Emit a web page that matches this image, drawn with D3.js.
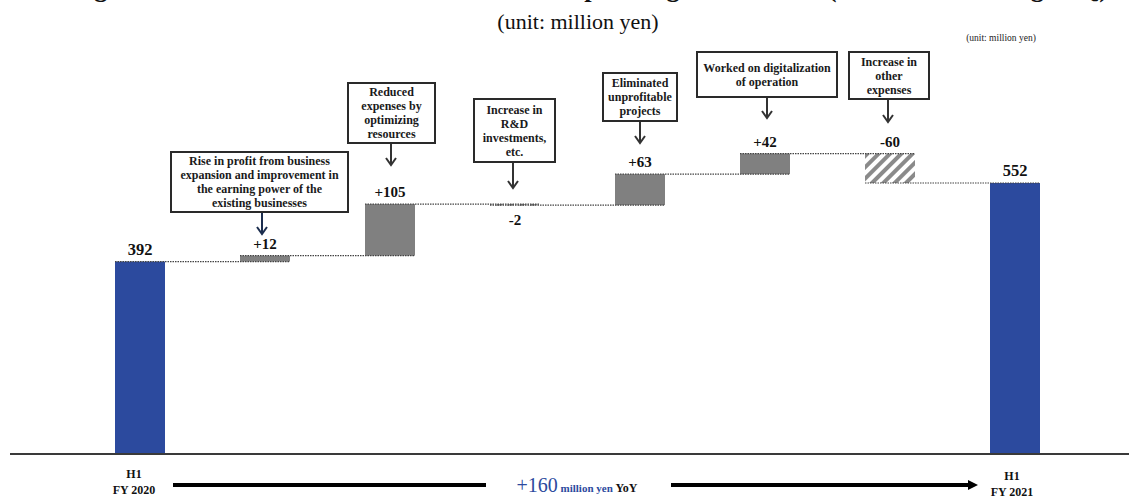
<!DOCTYPE html>
<html>
<head>
<meta charset="utf-8">
<script src="https://cdn.jsdelivr.net/npm/d3@7"></script>
<style>
  html, body { margin: 0; padding: 0; background: #fff; }
  svg { display: block; font-family: "Liberation Serif", "Times New Roman", serif; }
</style>
</head>
<body>
<svg id="chart" width="1129" height="497"></svg>
<script>
// Operating profit bridge, H1 FY2020 -> H1 FY2021 (million yen)
const categories = ["H1 FY 2020", "Business growth", "Resource optimization", "R&D", "Unprofitable projects", "Digitalization", "Other expenses", "H1 FY 2021"];
const values = [392, 12, 105, -2, 63, 42, -60, 552];
const valueLabels = ["392", "+12", "+105", "-2", "+63", "+42", "-60", "552"];
const isTotal = [true, false, false, false, false, false, false, true];
const noteLines = [
  null,
  ["Rise in profit from business", "expansion and improvement in", "the earning power of the", "existing businesses"],
  ["Reduced", "expenses by", "optimizing", "resources"],
  ["Increase in", "R&D", "investments,", "etc."],
  ["Eliminated", "unprofitable", "projects"],
  ["Worked on digitalization", "of operation"],
  ["Increase in", "other", "expenses"],
  null
];
const axisLabels = [["H1", "FY 2020"], ["H1", "FY 2021"]];
const titleText = "[Figure 3] Factors that Increased/Decreased Operating Profit in H1 (cumulative through 2Q)";
const unitText = "(unit: million yen)";
const yoyParts = ["+160", " million yen ", "YoY"];

// Layout of the callout boxes (x, y, width, height) and arrow tips
const noteBoxes = [null,
  {x: 171, y: 152, w: 177, h: 60, ax: 262, ay: 234, color: "#1c2e4f"},
  {x: 348, y: 83,  w: 87,  h: 60, ax: 391, ay: 165, color: "#333"},
  {x: 474, y: 99,  w: 81,  h: 63, ax: 513, ay: 188, color: "#333"},
  {x: 603, y: 73,  w: 74,  h: 48, ax: 640, ay: 143, color: "#333"},
  {x: 697, y: 52,  w: 140, h: 45, ax: 767, ay: 118, color: "#333"},
  {x: 849, y: 52,  w: 80,  h: 47, ax: 888, ay: 122, color: "#333"},
  null];

const svg = d3.select("#chart");
const W = 1129, baseY = 454, barW = 50;
const blue = "#2c4a9e", gray = "#808080";

const x = d3.scalePoint().domain(categories).range([140, 1015]);
const y = d3.scaleLinear().domain([0, 552]).range([baseY, 183]);

// running totals
let run = 0;
const bars = categories.map((c, i) => {
  let start, end;
  if (isTotal[i]) { start = 0; end = values[i]; run = values[i]; }
  else { start = run; end = run + values[i]; run = end; }
  return {cat: c, i, start, end, v: values[i], total: isTotal[i]};
});

// hatch pattern for decreases
const defs = svg.append("defs");
defs.append("pattern")
  .attr("id", "hatch").attr("patternUnits", "userSpaceOnUse")
  .attr("width", 8).attr("height", 8)
  .attr("patternTransform", "rotate(45)")
  .append("rect").attr("width", 4).attr("height", 8).attr("fill", "#8a8a8a");

// title (sits mostly above the top edge)
svg.append("text")
  .attr("x", 62).attr("y", -3)
  .attr("textLength", 1046).attr("lengthAdjust", "spacingAndGlyphs")
  .attr("font-size", 25).attr("font-weight", "bold").attr("fill", "#111")
  .text(titleText);

svg.append("text")
  .attr("x", 578).attr("y", 29).attr("text-anchor", "middle")
  .attr("font-size", 22).attr("fill", "#111")
  .text(unitText);

svg.append("text")
  .attr("x", 1001).attr("y", 41).attr("text-anchor", "middle")
  .attr("font-size", 9.5).attr("fill", "#222")
  .text(unitText);

// bars
svg.append("g").selectAll("rect").data(bars).join("rect")
  .attr("x", d => x(d.cat) - barW / 2)
  .attr("width", barW)
  .attr("y", d => y(Math.max(d.start, d.end)))
  .attr("height", d => Math.max(1.5, Math.abs(y(d.start) - y(d.end))))
  .attr("fill", d => d.total ? blue : (d.v < 0 ? "url(#hatch)" : gray));

// dotted connectors at each running level
const conn = bars.slice(0, -1).map((d, i) => ({level: d.end, x0: x(d.cat) - barW / 2, x1: x(bars[i + 1].cat) + barW / 2}));
svg.append("g").selectAll("line").data(conn).join("line")
  .attr("x1", d => d.x0).attr("x2", d => d.x1)
  .attr("y1", d => y(d.level)).attr("y2", d => y(d.level))
  .attr("stroke", "#444").attr("stroke-width", 1.2)
  .attr("stroke-dasharray", "1.5 1");

// value labels
svg.append("g").selectAll("text").data(bars).join("text")
  .attr("x", d => x(d.cat))
  .attr("y", d => d.i === 3 ? y(Math.min(d.start, d.end)) + 20 : y(Math.max(d.start, d.end)) - 7)
  .attr("text-anchor", "middle")
  .attr("font-weight", "bold")
  .attr("font-size", d => d.total ? 16.5 : 15)
  .attr("fill", "#111")
  .text((d, i) => valueLabels[i]);

// callouts
noteBoxes.forEach((b, i) => {
  if (!b) return;
  const g = svg.append("g");
  g.append("rect").attr("x", b.x).attr("y", b.y).attr("width", b.w).attr("height", b.h)
    .attr("fill", "#fff").attr("stroke", "#2a2a2a").attr("stroke-width", 2);
  const lines = noteLines[i];
  const lh = 14, cy = b.y + b.h / 2;
  g.selectAll("text").data(lines).join("text")
    .attr("x", b.x + b.w / 2)
    .attr("y", (l, k) => cy + (k - (lines.length - 1) / 2) * lh)
    .attr("dy", "0.35em")
    .attr("text-anchor", "middle")
    .attr("font-size", 12).attr("font-weight", "bold").attr("fill", "#1a1a1a")
    .text(l => l);
  g.append("path")
    .attr("d", `M${b.ax},${b.y + b.h + 1}V${b.ay}M${b.ax - 5},${b.ay - 7}L${b.ax},${b.ay}L${b.ax + 5},${b.ay - 7}`)
    .attr("fill", "none").attr("stroke", b.color).attr("stroke-width", 2);
});

// baseline
svg.append("line").attr("x1", 10).attr("x2", W).attr("y1", baseY).attr("y2", baseY)
  .attr("stroke", "#3a3a3a").attr("stroke-width", 2);

// period labels under the baseline
const labelX = [134, 1012], labelY = [478, 480];
axisLabels.forEach((ls, j) => {
  svg.append("g").selectAll("text").data(ls).join("text")
    .attr("x", labelX[j]).attr("y", (l, k) => labelY[j] + k * 16)
    .attr("text-anchor", "middle").attr("font-size", 12).attr("font-weight", "bold").attr("fill", "#111")
    .text(l => l);
});

// YoY arrow
svg.append("line").attr("x1", 173).attr("x2", 486).attr("y1", 485).attr("y2", 485)
  .attr("stroke", "#000").attr("stroke-width", 4);
svg.append("line").attr("x1", 671).attr("x2", 970).attr("y1", 485).attr("y2", 485)
  .attr("stroke", "#000").attr("stroke-width", 4);
svg.append("path").attr("d", "M968,480L978,485L968,490Z").attr("fill", "#000");

const yoy = svg.append("text").attr("x", 577).attr("y", 492).attr("text-anchor", "middle");
yoy.append("tspan").attr("font-size", 20).attr("fill", blue).text(yoyParts[0]);
yoy.append("tspan").attr("font-size", 11).attr("font-weight", "bold").attr("fill", blue).text(yoyParts[1]);
yoy.append("tspan").attr("font-size", 12).attr("font-weight", "bold").attr("fill", "#111").text(yoyParts[2]);
</script>
</body>
</html>
